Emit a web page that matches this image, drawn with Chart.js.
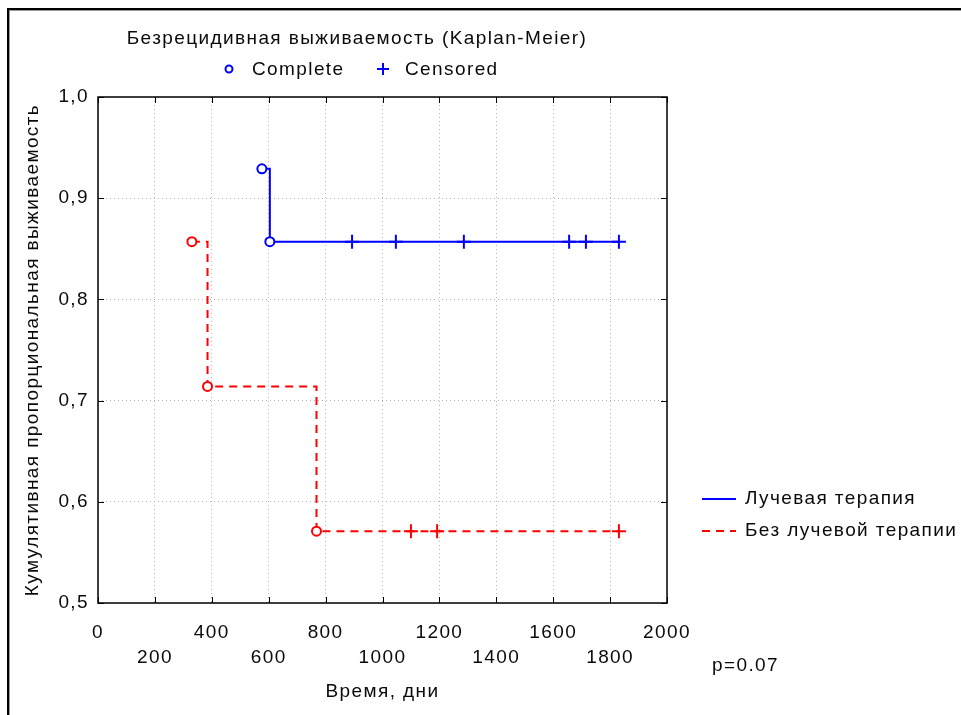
<!DOCTYPE html>
<html>
<head>
<meta charset="utf-8">
<script src="https://cdn.jsdelivr.net/npm/chart.js@4/dist/chart.umd.min.js"></script>
<style>
  html, body { margin: 0; padding: 0; background: #fff; }
  canvas { display: block; }
</style>
</head>
<body>
<canvas id="km" width="961" height="715"></canvas>
<script>
// Axis ticks
const xTicks = [0, 200, 400, 600, 800, 1000, 1200, 1400, 1600, 1800, 2000];
const yTicks = [0.5, 0.6, 0.7, 0.8, 0.9, 1.0];

// Group names
const seriesNames = ['Лучевая терапия', 'Без лучевой терапии'];

// Лучевая терапия: time (days), cumulative survival, 1 = complete, 0 = censored
const radTimes  = [576, 604, 893, 1047, 1286, 1656, 1715, 1831];
const radSurv   = [0.929, 0.857, 0.857, 0.857, 0.857, 0.857, 0.857, 0.857];
const radEvent  = [1, 1, 0, 0, 0, 0, 0, 0];

// Без лучевой терапии
const noRadTimes = [330, 385, 768, 1100, 1192, 1831];
const noRadSurv  = [0.857, 0.714, 0.571, 0.571, 0.571, 0.571];
const noRadEvent = [1, 1, 1, 0, 0, 0];

const pValueText = 'p=0.07';
const titleText = 'Безрецидивная выживаемость (Kaplan-Meier)';
const xTitle = 'Время, дни';
const yTitle = 'Кумулятивная пропорциональная выживаемость';

const BLUE = '#0000ff';
const RED = '#ff0000';
const TEXT = '#0a0a0a';
const FONT_FAMILY = '"Liberation Sans", Arial, sans-serif';
const FONT_SIZE = 19;
const SPACING = '1.4px';

function kmDataset(label, times, surv, events, color, dash) {
  return {
    label,
    data: times.map((t, i) => ({ x: t, y: surv[i] })),
    stepped: 'before',
    borderColor: color,
    borderWidth: 2,
    borderDash: dash,
    fill: false,
    pointStyle: events.map(e => (e ? 'circle' : 'cross')),
    pointRadius: events.map(e => (e ? 4.5 : 7)),
    pointHoverRadius: events.map(e => (e ? 4.5 : 7)),
    pointBorderColor: color,
    pointBackgroundColor: events.map(e => (e ? '#ffffff' : color)),
    pointBorderWidth: 2
  };
}

// Frame, plot box with inner ticks, titles and legends
const decorations = {
  id: 'decorations',
  beforeUpdate(chart) { chart.ctx.letterSpacing = SPACING; },
  beforeDraw(chart) {
    const ctx = chart.ctx;
    ctx.letterSpacing = SPACING;
    ctx.save();
    ctx.fillStyle = '#fff';
    ctx.fillRect(0, 0, chart.width, chart.height);
    ctx.restore();
  },
  afterDraw(chart) {
    const ctx = chart.ctx;
    const { left, right, top, bottom } = chart.chartArea;
    const xs = chart.scales.x, ys = chart.scales.y;
    ctx.save();
    ctx.letterSpacing = SPACING;

    // window frame
    ctx.fillStyle = '#000';
    ctx.fillRect(7, 8, chart.width - 7, 2);
    ctx.fillRect(7, 8, 2, chart.height - 8);
    ctx.fillStyle = '#9a9a9a';
    ctx.fillRect(9, 10, chart.width - 9, 1);
    ctx.fillRect(9, 10, 1, chart.height - 10);

    // plot box
    ctx.strokeStyle = '#000';
    ctx.lineWidth = 1.5;
    ctx.strokeRect(left, top, right - left, bottom - top);

    // inner tick marks
    ctx.lineWidth = 1;
    ctx.beginPath();
    xTicks.forEach(v => {
      const p = Math.round(xs.getPixelForValue(v)) + 0.5;
      ctx.moveTo(p, bottom); ctx.lineTo(p, bottom - 6);
      ctx.moveTo(p, top); ctx.lineTo(p, top + 6);
    });
    yTicks.forEach(v => {
      const p = Math.round(ys.getPixelForValue(v)) + 0.5;
      ctx.moveTo(left, p); ctx.lineTo(left + 6, p);
      ctx.moveTo(right, p); ctx.lineTo(right - 6, p);
    });
    ctx.stroke();

    ctx.font = FONT_SIZE + 'px ' + FONT_FAMILY;
    ctx.fillStyle = TEXT;
    ctx.textBaseline = 'middle';

    // title
    ctx.textAlign = 'center';
    ctx.fillText(titleText, 357, 39);

    // marker legend
    ctx.textAlign = 'left';
    ctx.strokeStyle = BLUE;
    ctx.lineWidth = 2;
    ctx.beginPath();
    ctx.arc(229, 69, 3.5, 0, Math.PI * 2);
    ctx.stroke();
    ctx.fillText('Complete', 252, 70);
    ctx.beginPath();
    ctx.moveTo(377, 69); ctx.lineTo(389, 69);
    ctx.moveTo(383, 63); ctx.lineTo(383, 75);
    ctx.stroke();
    ctx.fillText('Censored', 405, 70);

    // group legend
    const ds = chart.data.datasets;
    const rows = [499, 531];
    ds.forEach((d, i) => {
      ctx.save();
      ctx.strokeStyle = d.borderColor;
      ctx.lineWidth = 2;
      ctx.setLineDash(d.borderDash || []);
      ctx.beginPath();
      ctx.moveTo(702, rows[i]); ctx.lineTo(736, rows[i]);
      ctx.stroke();
      ctx.restore();
      ctx.fillText(d.label, 745, rows[i]);
    });

    // p value
    ctx.fillText(pValueText, 712, 666);
    ctx.restore();
  }
};

new Chart(document.getElementById('km'), {
  type: 'line',
  data: {
    datasets: [
      kmDataset(seriesNames[0], radTimes, radSurv, radEvent, BLUE, []),
      kmDataset(seriesNames[1], noRadTimes, noRadSurv, noRadEvent, RED, [8, 6])
    ]
  },
  options: {
    responsive: false,
    animation: false,
    layout: { padding: { left: 0, top: 97, right: 294, bottom: 0 } },
    plugins: { legend: { display: false }, title: { display: false }, tooltip: { enabled: false } },
    scales: {
      x: {
        type: 'linear',
        min: 0, max: 2000,
        afterBuildTicks(scale) { scale.ticks = xTicks.map(v => ({ value: v })); },
        afterFit(scale) { scale.height = 112; },
        grid: { color: '#b4b4b4', lineWidth: 1, drawTicks: false },
        border: { display: false, dash: [1, 3] },
        ticks: {
          autoSkip: false,
          maxRotation: 0,
          padding: 17,
          color: TEXT,
          font: { family: FONT_FAMILY, size: FONT_SIZE, lineHeight: 25 / FONT_SIZE },
          callback(v, i) { return i % 2 === 0 ? [String(v), ''] : ['', String(v)]; }
        },
        title: {
          display: true, text: xTitle, color: TEXT,
          font: { family: FONT_FAMILY, size: FONT_SIZE, lineHeight: 1.2 },
          padding: { top: 0, bottom: 12 }
        }
      },
      y: {
        type: 'linear',
        min: 0.5, max: 1.0,
        afterBuildTicks(scale) { scale.ticks = yTicks.map(v => ({ value: v })); },
        afterFit(scale) { scale.width = 98; },
        grid: { color: '#b4b4b4', lineWidth: 1, drawTicks: false },
        border: { display: false, dash: [1, 3] },
        ticks: {
          padding: 9,
          color: TEXT,
          font: { family: FONT_FAMILY, size: FONT_SIZE },
          callback(v) { return Number(v).toFixed(1).replace('.', ','); }
        },
        title: {
          display: true, text: yTitle, color: TEXT,
          font: { family: FONT_FAMILY, size: FONT_SIZE, lineHeight: 1.2 },
          padding: { top: 21, bottom: 0 }
        }
      }
    }
  },
  plugins: [decorations]
});
</script>
</body>
</html>
